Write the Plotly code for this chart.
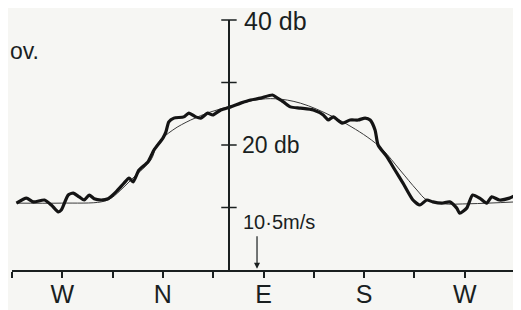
import plotly.graph_objects as go

# Azimuth in degrees (W=0, N=90, E=180, S=270, W=360), level in db
measured_az = [-41.0, -32.1, -25.8, -16.0, -9.8, -3.6, -0.9, 5.3, 9.8, 15.1, 19.6, 24.1, 28.5, 34.8,
               41.0, 48.1, 55.2, 59.7, 63.3, 68.6, 76.6, 82.0, 90.0, 92.7, 95.3, 99.8, 108.7, 113.2,
               119.4, 123.9, 130.1, 134.6, 141.7, 150.6, 159.5, 168.4, 177.3, 188.0, 192.5, 197.8,
               204.1, 213.0, 224.6, 233.5, 237.9, 242.4, 250.4, 257.5, 264.7, 270.9, 275.4, 279.8,
               282.5, 290.5, 297.6, 304.8, 313.7, 319.9, 326.1, 331.5, 339.5, 346.6, 352.9, 355.5,
               361.8, 367.1, 373.4, 379.6, 384.1, 391.2, 400.1, 406.0]
measured_db = [10.7, 11.5, 10.9, 11.2, 10.4, 9.3, 9.6, 12.0, 12.3, 11.7, 11.2, 12.0, 11.4, 11.2,
               11.4, 12.5, 13.9, 14.7, 14.1, 16.0, 17.3, 19.2, 21.1, 22.1, 23.7, 24.3, 24.5, 25.1,
               24.5, 24.3, 25.1, 24.8, 25.6, 26.1, 26.7, 27.2, 27.5, 28.0, 27.5, 26.9,
               26.1, 25.9, 25.6, 24.8, 24.0, 24.5, 23.5, 24.0, 24.0, 24.3, 24.0, 22.4,
               20.0, 18.1, 16.0, 13.9, 11.2, 10.4, 11.2, 10.9, 10.7, 10.9, 9.9, 9.1,
               9.9, 12.0, 11.5, 10.7, 11.7, 11.2, 11.5, 12.0]

smooth_az = [-41.0, -0.9, 34.8, 43.7, 55.2, 64.2, 79.3, 85.5, 98.9, 114.9, 132.8, 150.6, 172.9,
             190.7, 213.0, 242.4, 272.7, 286.9, 302.1, 317.2, 326.1, 340.4, 364.4, 406.0]
smooth_db = [10.7, 10.7, 10.9, 11.5, 13.3, 14.9, 17.6, 20.3, 22.4, 24.0, 25.3, 26.2, 27.2,
             27.4, 26.7, 24.5, 21.3, 19.2, 16.0, 12.8, 11.2, 10.6, 10.6, 10.9]

tick_vals = [-45, 0, 45, 90, 135, 180, 225, 270, 315, 360, 405]
tick_text = ["", "W", "", "N", "", "E", "", "S", "", "W", ""]
db_ticks = [10, 20, 30, 40]

INK = "#1a1f1f"
FONT = "Liberation Sans"
yaxis_x = 149.1

fig = go.Figure()
fig.add_trace(go.Scatter(x=smooth_az, y=smooth_db, mode="lines", line=dict(color="#3a3a3a", width=1, shape="spline"),
                         hoverinfo="skip"))
fig.add_trace(go.Scatter(x=measured_az, y=measured_db, mode="lines", line=dict(color="#141414", width=3.2, shape="spline", smoothing=0.6),
                         hoverinfo="skip"))
fig.add_trace(go.Scatter(x=[yaxis_x] * len(db_ticks), y=db_ticks, mode="markers",
                         marker=dict(symbol="line-ew", size=11, line=dict(color=INK, width=1.5)),
                         hoverinfo="skip", cliponaxis=False))

fig.add_annotation(x=160.8, y=39.8, text="40 db", showarrow=False, xanchor="left", yanchor="middle",
                   font=dict(family=FONT, size=25, color=INK))
fig.add_annotation(x=159.0, y=20.0, text="20 db", showarrow=False, xanchor="left", yanchor="middle",
                   font=dict(family=FONT, size=23, color=INK))
fig.add_annotation(x=159.9, y=7.7, text="10·5m/s", showarrow=False, xanchor="left", yanchor="middle",
                   font=dict(family=FONT, size=20, color=INK))
fig.add_annotation(x=174.2, y=0.2, ax=0, ay=-34, text="", showarrow=True, arrowhead=2, arrowsize=1,
                   arrowwidth=1.2, arrowcolor=INK)
fig.add_annotation(xref="paper", x=-0.007, y=35.0, text="ov.", showarrow=False, xanchor="left", yanchor="middle",
                   font=dict(family=FONT, size=23, color=INK))

# the page places the figure 8px in from the top-left corner, so margins are shifted by 8px
fig.update_layout(
    width=521, height=310,
    margin=dict(l=4, r=14, t=12, b=48),
    paper_bgcolor="#f6f6f3", plot_bgcolor="#f6f6f3",
    showlegend=False,
    xaxis=dict(range=[-45, 405], showgrid=False, zeroline=False, showline=True, linecolor=INK, linewidth=2,
               ticks="outside", ticklen=6, tickwidth=1.5, tickcolor=INK,
               tickvals=tick_vals, ticktext=tick_text, automargin=False, ticklabelstandoff=-5,
               tickfont=dict(family=FONT, size=25, color=INK)),
    yaxis=dict(range=[0, 40], showgrid=False, zeroline=False, showline=True, linecolor=INK, linewidth=1.8,
               anchor="free", position=(yaxis_x + 45) / 450, showticklabels=False, ticks="", automargin=False),
)

fig.write_html("out.html")
